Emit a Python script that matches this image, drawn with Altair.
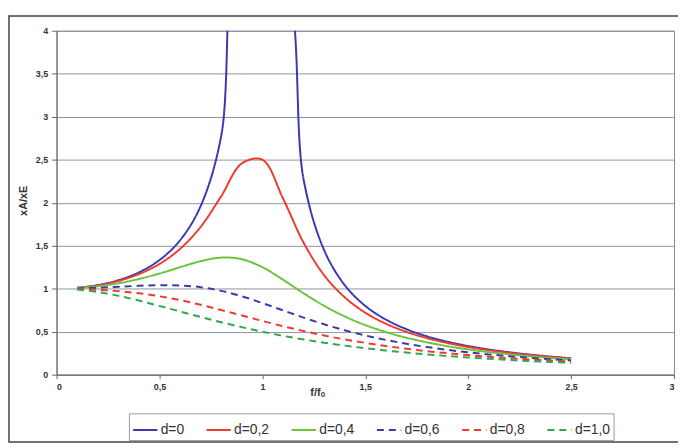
import altair as alt
import pandas as pd

# f/f0 sample points
ratio = [0.1, 0.2, 0.3, 0.4, 0.5, 0.6, 0.7, 0.8, 0.9, 1.0, 1.1, 1.2, 1.3,
         1.4, 1.5, 1.6, 1.7, 1.8, 1.9, 2.0, 2.1, 2.2, 2.3, 2.4, 2.5]

series_names = ["d=0", "d=0,2", "d=0,4", "d=0,6", "d=0,8", "d=1,0"]

d00 = [1.010, 1.042, 1.099, 1.190, 1.333, 1.563, 1.961, 2.778, 5.263, None, 4.762, 2.273, 1.449,
       1.042, 0.800, 0.641, 0.529, 0.446, 0.383, 0.333, 0.293, 0.260, 0.233, 0.210, 0.190]
d02 = [1.009, 1.038, 1.090, 1.170, 1.288, 1.463, 1.719, 2.076, 2.457, 2.500, 2.051, 1.536, 1.157,
       0.900, 0.721, 0.593, 0.498, 0.425, 0.368, 0.322, 0.285, 0.254, 0.228, 0.206, 0.187]
d04 = [1.007, 1.028, 1.063, 1.113, 1.176, 1.250, 1.320, 1.362, 1.343, 1.250, 1.105, 0.947, 0.801,
       0.678, 0.577, 0.496, 0.430, 0.376, 0.331, 0.294, 0.263, 0.237, 0.214, 0.195, 0.178]
d06 = [1.003, 1.011, 1.022, 1.034, 1.041, 1.038, 1.018, 0.975, 0.912, 0.833, 0.748, 0.664, 0.586,
       0.517, 0.456, 0.404, 0.360, 0.321, 0.289, 0.260, 0.236, 0.215, 0.196, 0.180, 0.165]
d08 = [0.997, 0.988, 0.972, 0.947, 0.912, 0.867, 0.813, 0.752, 0.689, 0.625, 0.564, 0.508, 0.456,
       0.410, 0.370, 0.334, 0.302, 0.274, 0.250, 0.228, 0.209, 0.192, 0.177, 0.164, 0.152]
d10 = [0.990, 0.962, 0.917, 0.862, 0.800, 0.735, 0.671, 0.610, 0.553, 0.500, 0.452, 0.410, 0.372,
       0.338, 0.308, 0.281, 0.257, 0.236, 0.217, 0.200, 0.185, 0.171, 0.159, 0.148, 0.138]

x_ticks = [0, 0.5, 1, 1.5, 2, 2.5, 3]
y_ticks = [0, 0.5, 1, 1.5, 2, 2.5, 3, 3.5, 4]

colors = ["#3a3aae", "#ee3b30", "#6cc43c", "#3a3aae", "#ee3b30", "#2ea84a"]
dashes = [[1, 0], [1, 0], [1, 0], [7, 5], [7, 5], [7, 5]]

rows = []
for name, vals in zip(series_names, [d00, d02, d04, d06, d08, d10]):
    for f, v in zip(ratio, vals):
        if v is not None:
            rows.append({"f": f, "v": v, "series": name})
df = pd.DataFrame(rows)

comma = "replace(toString(datum.value), '.', ',')"

lines = alt.Chart(df).mark_line(clip=True, interpolate="catmull-rom", strokeWidth=2).encode(
    x=alt.X("f:Q",
            scale=alt.Scale(domain=[0, 3], nice=False, zero=False),
            axis=alt.Axis(values=x_ticks, labelExpr=comma, grid=False, title="f/fₒ",
                          tickSize=4, labelPadding=4, titleX=263, titleY=12,
                          titleFontSize=11, titleFontWeight="bold")),
    y=alt.Y("v:Q",
            scale=alt.Scale(domain=[0, 4], nice=False),
            axis=alt.Axis(values=y_ticks, labelExpr=comma, grid=True, title="xA/xE",
                          tickSize=5, labelPadding=4, titleX=-28, titleY=171,
                          titleFontSize=11, titleFontWeight="bold")),
    color=alt.Color("series:N", scale=alt.Scale(domain=series_names, range=colors),
                    legend=alt.Legend(title=None)),
    strokeDash=alt.StrokeDash("series:N", scale=alt.Scale(domain=series_names, range=dashes),
                              legend=alt.Legend(title=None)),
)

frame = alt.Chart(pd.DataFrame({"k": [0]})).mark_rect(
    filled=False, stroke="#444444", strokeWidth=1.5, clip=False
).encode(x=alt.value(-48), x2=alt.value(640), y=alt.value(-15), y2=alt.value(415))

chart = alt.layer(frame, lines).properties(
    width=623, height=347,
    autosize=alt.AutoSizeParams(type="none"),
    padding={"left": 49, "top": 21, "right": 4, "bottom": 72},
    background="white",
).configure_view(
    stroke="#888888", strokeWidth=1
).configure_axis(
    labelFont="Liberation Sans", labelFontSize=9, labelFontWeight="bold", labelColor="#333333",
    titleFont="Liberation Sans", titleColor="#333333",
    domainColor="#666666", tickColor="#666666", gridColor="#8a96a2", gridWidth=1,
).configure_legend(
    orient="none", legendX=73, legendY=386, direction="horizontal", columns=6,
    symbolType="stroke", symbolSize=600, symbolStrokeWidth=2,
    labelFont="Liberation Sans", labelFontSize=14, labelColor="#333333", labelOffset=2,
    columnPadding=18, padding=3, strokeColor="#999999", fillColor="white",
)

chart.save("out.html", embed_options={"renderer": "svg", "actions": False})
